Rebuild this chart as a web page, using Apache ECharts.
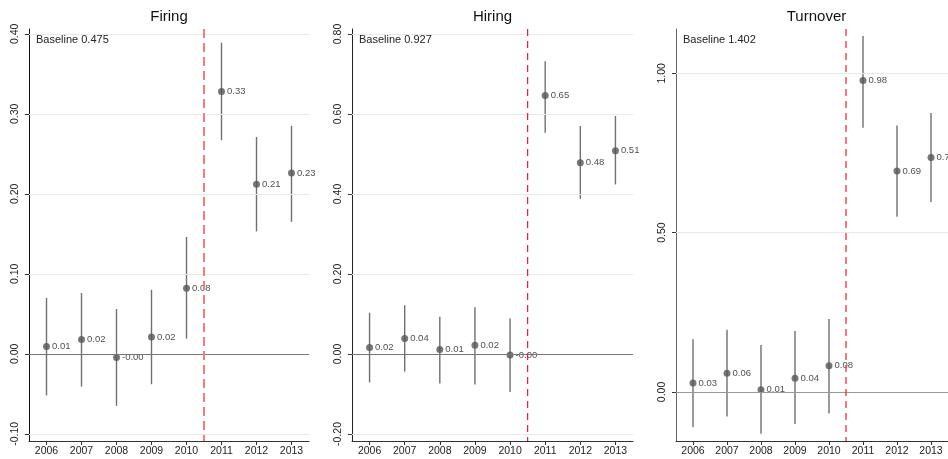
<!DOCTYPE html>
<html>
<head>
<meta charset="utf-8">
<script src="https://cdn.jsdelivr.net/npm/echarts@6/dist/echarts.min.js"></script>
<style>html,body{margin:0;padding:0;background:#fff}#c{width:948px;height:459px}</style>
</head>
<body>
<div id="c"></div>
<script>
const years = ['2006','2007','2008','2009','2010','2011','2012','2013'];
const cutoffYear = 2010.5;

const firingEst = [0.009, 0.018, -0.0046, 0.021, 0.082, 0.328, 0.212, 0.226];
const firingLo  = [-0.052, -0.041, -0.065, -0.038, 0.019, 0.267, 0.153, 0.165];
const firingHi  = [0.070, 0.076, 0.056, 0.080, 0.146, 0.389, 0.271, 0.285];
const firingTicks = [-0.1, 0.0, 0.1, 0.2, 0.3, 0.4];

const hiringEst = [0.016, 0.039, 0.011, 0.022, -0.0025, 0.646, 0.478, 0.508];
const hiringLo  = [-0.071, -0.044, -0.074, -0.076, -0.095, 0.553, 0.388, 0.424];
const hiringHi  = [0.103, 0.122, 0.093, 0.117, 0.089, 0.732, 0.570, 0.595];
const hiringTicks = [-0.2, 0.0, 0.2, 0.4, 0.6, 0.8];

const turnEst = [0.028, 0.059, 0.007, 0.043, 0.082, 0.977, 0.693, 0.736];
const turnLo  = [-0.111, -0.077, -0.131, -0.101, -0.068, 0.829, 0.550, 0.596];
const turnHi  = [0.165, 0.195, 0.147, 0.191, 0.229, 1.117, 0.836, 0.875];
const turnTicks = [0.0, 0.5, 1.0];

const titles = ['Firing', 'Hiring', 'Turnover'];
const baselines = ['Baseline 0.475', 'Baseline 0.927', 'Baseline 1.402'];

const panels = [
  {est: firingEst, lo: firingLo, hi: firingHi, ticks: firingTicks, min: -0.109, max: 0.406,
   left: 29, width: 280, axisColor: '#111', zeroColor: '#777',
   red: {color: '#f47c7c', width: 2, dash: [9, 5]}},
  {est: hiringEst, lo: hiringLo, hi: hiringHi, ticks: hiringTicks, min: -0.2175, max: 0.8125,
   left: 352, width: 281, axisColor: '#222', zeroColor: '#777',
   red: {color: '#e8202a', width: 1.2, dash: [7, 5]}},
  {est: turnEst, lo: turnLo, hi: turnHi, ticks: turnTicks, min: -0.154, max: 1.139,
   left: 676, width: 281, axisColor: '#666', zeroColor: '#999',
   red: {color: '#e8202a', width: 1.2, dash: [7, 5]}}
];

const TOP = 29, HEIGHT = 412;
const grid = [], xAxis = [], yAxis = [], series = [], graphic = [];
const fontFam = '"Liberation Sans", Arial, sans-serif';

panels.forEach((p, i) => {
  grid.push({left: p.left, width: p.width, top: TOP, height: HEIGHT, containLabel: false});
  xAxis.push({
    type: 'category', gridIndex: i, data: years, boundaryGap: true, position: 'bottom',
    axisLine: {show: true, onZero: false, lineStyle: {color: '#333', width: 1}},
    axisTick: {show: true, alignWithLabel: true, length: 4, lineStyle: {color: '#333'}},
    axisLabel: {color: '#222', fontSize: 10.5, fontFamily: fontFam, margin: 5, interval: 0},
    splitLine: {show: false}
  });
  xAxis.push({
    type: 'value', gridIndex: i, min: Number(years[0]) - 0.5, max: Number(years[years.length - 1]) + 0.5,
    show: false, splitLine: {show: false}, axisLine: {onZero: false}
  });
  yAxis.push({
    type: 'value', gridIndex: i, min: p.min, max: p.max,
    axisLine: {show: true, onZero: false, lineStyle: {color: p.axisColor, width: 1}},
    axisTick: {show: true, length: 4, customValues: p.ticks, lineStyle: {color: '#333'}},
    axisLabel: {show: true, customValues: p.ticks, rotate: 90, margin: 8, color: '#222',
      fontSize: 10.5, fontFamily: fontFam, formatter: v => v.toFixed(2)},
    splitLine: {show: false}
  });
  const xCat = i * 2, xVal = i * 2 + 1;
  series.push({
    type: 'line', xAxisIndex: xCat, yAxisIndex: i, data: [], z: 1, silent: true,
    markLine: {
      silent: true, symbol: 'none', animation: false, label: {show: false},
      data: p.ticks.map(t => ({yAxis: t, lineStyle: t === 0 ? {color: p.zeroColor, width: 1, type: 'solid'} : {color: '#e9e9e9', width: 1, type: 'solid'}}))
    }
  });
  series.push({
    type: 'custom', xAxisIndex: xCat, yAxisIndex: i, z: 2, silent: true,
    encode: {x: 0, y: [1, 2]},
    data: years.map((y, k) => [y, p.lo[k], p.hi[k]]),
    renderItem: (params, api) => {
      const a = api.coord([api.value(0), api.value(1)]);
      const b = api.coord([api.value(0), api.value(2)]);
      return {type: 'line', shape: {x1: a[0], y1: a[1], x2: b[0], y2: b[1]},
        style: {stroke: '#707070', lineWidth: 1.4}};
    }
  });
  series.push({
    type: 'scatter', xAxisIndex: xCat, yAxisIndex: i, z: 3, silent: true,
    symbol: 'circle', symbolSize: 7, itemStyle: {color: '#555'},
    data: years.map((y, k) => [y, p.est[k]]),
    label: {show: true, position: 'right', distance: 2, fontSize: 9.5, fontFamily: fontFam, color: '#222',
      formatter: prm => prm.value[1].toFixed(2)}
  });
  const red = p.red;
  series.push({
    type: 'custom', xAxisIndex: xVal, yAxisIndex: i, z: 5, silent: true,
    encode: {x: 0, y: 1},
    data: [[cutoffYear, 0]],
    renderItem: (params, api) => {
      const x = api.coord([api.value(0), 0])[0];
      const cs = params.coordSys;
      return {type: 'line', shape: {x1: x, y1: cs.y, x2: x, y2: cs.y + cs.height},
        style: {stroke: red.color, lineWidth: red.width, lineDash: red.dash}};
    }
  });
  graphic.push({type: 'text', x: p.left + p.width / 2, y: 17,
    style: {text: titles[i], font: '15px ' + fontFam, fill: '#111', align: 'center', verticalAlign: 'middle'}});
  graphic.push({type: 'text', x: p.left + 7, y: 40,
    style: {text: baselines[i], font: '11px ' + fontFam, fill: '#222', align: 'left', verticalAlign: 'middle'}});
});

const chart = echarts.init(document.getElementById('c'), null, {renderer: 'canvas'});
chart.setOption({
  animation: false,
  backgroundColor: '#fff',
  grid, xAxis, yAxis, series, graphic
});
</script>
</body>
</html>
